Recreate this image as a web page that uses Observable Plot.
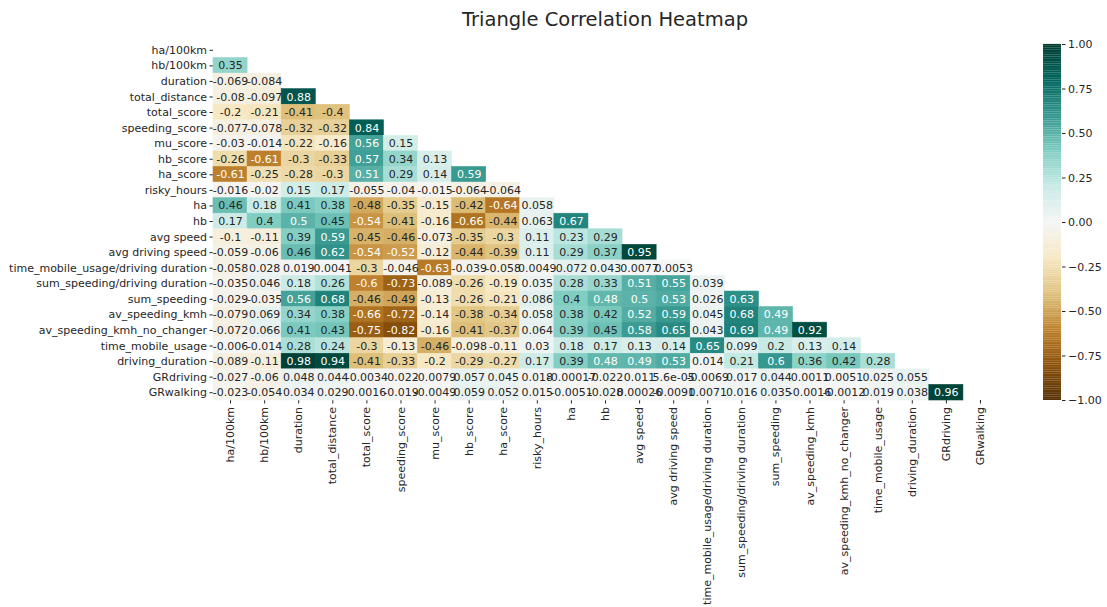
<!DOCTYPE html>
<html>
<head>
<meta charset="utf-8">
<script src="https://cdn.jsdelivr.net/npm/d3@7"></script>
<script src="https://cdn.jsdelivr.net/npm/@observablehq/plot@0.6"></script>
<style>
  body { margin: 0; background: #fff; }
  #wrap { position: relative; width: 1107px; height: 607px; overflow: hidden; font-family: "DejaVu Sans", sans-serif; }
  #title { position: absolute; left: 0; top: 10px; width: 1210px; text-align: center; font-size: 19.5px; line-height: 20px; color: #262626; }
  #heat, #bar { position: absolute; top: 0; }
  #heat { left: 0; }
  #bar { left: 1043px; }
</style>
</head>
<body>
<div id="wrap">
  <div id="heat"></div>
  <div id="bar"></div>
  <div id="title">Triangle Correlation Heatmap</div>
</div>
<script>
const variables = [
  "ha/100km", "hb/100km", "duration", "total_distance", "total_score", "speeding_score",
  "mu_score", "hb_score", "ha_score", "risky_hours", "ha", "hb", "avg speed",
  "avg driving speed", "time_mobile_usage/driving duration", "sum_speeding/driving duration",
  "sum_speeding", "av_speeding_kmh", "av_speeding_kmh_no_changer", "time_mobile_usage",
  "driving_duration", "GRdriving", "GRwalking"
];

// lower triangle rows (row i has i values, for variables 1..22)
const corrRows = [
  [0.35],
  [-0.069, -0.084],
  [-0.08, -0.097, 0.88],
  [-0.2, -0.21, -0.41, -0.4],
  [-0.077, -0.078, -0.32, -0.32, 0.84],
  [-0.03, -0.014, -0.22, -0.16, 0.56, 0.15],
  [-0.26, -0.61, -0.3, -0.33, 0.57, 0.34, 0.13],
  [-0.61, -0.25, -0.28, -0.3, 0.51, 0.29, 0.14, 0.59],
  [-0.016, -0.02, 0.15, 0.17, -0.055, -0.04, -0.015, -0.064, -0.064],
  [0.46, 0.18, 0.41, 0.38, -0.48, -0.35, -0.15, -0.42, -0.64, 0.058],
  [0.17, 0.4, 0.5, 0.45, -0.54, -0.41, -0.16, -0.66, -0.44, 0.063, 0.67],
  [-0.1, -0.11, 0.39, 0.59, -0.45, -0.46, -0.073, -0.35, -0.3, 0.11, 0.23, 0.29],
  [-0.059, -0.06, 0.46, 0.62, -0.54, -0.52, -0.12, -0.44, -0.39, 0.11, 0.29, 0.37, 0.95],
  [-0.058, 0.028, 0.019, 0.0041, -0.3, -0.046, -0.63, -0.039, -0.058, 0.0049, 0.072, 0.043, 0.0077, 0.0053],
  [-0.035, 0.046, 0.18, 0.26, -0.6, -0.73, -0.089, -0.26, -0.19, 0.035, 0.28, 0.33, 0.51, 0.55, 0.039],
  [-0.029, -0.035, 0.56, 0.68, -0.46, -0.49, -0.13, -0.26, -0.21, 0.086, 0.4, 0.48, 0.5, 0.53, 0.026, 0.63],
  [-0.079, 0.069, 0.34, 0.38, -0.66, -0.72, -0.14, -0.38, -0.34, 0.058, 0.38, 0.42, 0.52, 0.59, 0.045, 0.68, 0.49],
  [-0.072, 0.066, 0.41, 0.43, -0.75, -0.82, -0.16, -0.41, -0.37, 0.064, 0.39, 0.45, 0.58, 0.65, 0.043, 0.69, 0.49, 0.92],
  [-0.006, -0.014, 0.28, 0.24, -0.3, -0.13, -0.46, -0.098, -0.11, 0.03, 0.18, 0.17, 0.13, 0.14, 0.65, 0.099, 0.2, 0.13, 0.14],
  [-0.089, -0.11, 0.98, 0.94, -0.41, -0.33, -0.2, -0.29, -0.27, 0.17, 0.39, 0.48, 0.49, 0.53, 0.014, 0.21, 0.6, 0.36, 0.42, 0.28],
  [-0.027, -0.06, 0.048, 0.044, -0.0034, -0.022, -0.0079, 0.057, 0.045, 0.018, -0.00017, -0.022, 0.011, 5.6e-05, -0.0069, 0.017, 0.044, 0.0011, 0.0051, 0.025, 0.055],
  [-0.023, -0.054, 0.034, 0.029, 0.0016, -0.019, -0.0049, 0.059, 0.052, 0.015, -0.0051, -0.028, 0.00026, -0.0091, 0.0071, 0.016, 0.035, -0.0016, -0.0012, 0.019, 0.038, 0.96]
];

const colorbarTicks = [-1, -0.75, -0.5, -0.25, 0, 0.25, 0.5, 0.75, 1];

const brbg = ["#543005", "#8c510a", "#bf812d", "#dfc27d", "#f6e8c3", "#f5f5f5",
              "#c7eae5", "#80cdc1", "#35978f", "#01665e", "#003c30"];
const interp = d3.piecewise(d3.interpolateRgb, brbg);

const cells = [];
corrRows.forEach((vals, i) => {
  vals.forEach((v, j) => cells.push({row: variables[i + 1], col: variables[j], v}));
});

function fmt(v) {
  if (v === 0) return "0";
  const e = Math.floor(Math.log10(Math.abs(v)));
  if (e < -4) {
    let s = v.toExponential(1);
    s = s.replace(/\.0e/, "e");
    s = s.replace(/e([+-])(\d)$/, "e$10$2");
    return s;
  }
  let s = v.toPrecision(2);
  if (s.includes(".")) s = s.replace(/0+$/, "").replace(/\.$/, "");
  return s;
}
function lum(v) {
  const c = d3.rgb(interp((v + 1) / 2));
  const f = x => { x /= 255; return x <= 0.03928 ? x / 12.92 : Math.pow((x + 0.055) / 1.055, 2.4); };
  return 0.2126 * f(c.r) + 0.7152 * f(c.g) + 0.0722 * f(c.b);
}
const lightCells = cells.filter(d => lum(d.v) > 0.408);
const darkCells = cells.filter(d => lum(d.v) <= 0.408);

const heat = Plot.plot({
  width: 1107, height: 607,
  marginTop: 42, marginBottom: 207, marginLeft: 213, marginRight: 110,
  style: {fontFamily: "DejaVu Sans", fontSize: "11px", color: "#262626", background: "transparent"},
  x: {domain: variables, padding: 0, round: false, tickRotate: -90, tickSize: 3.5, tickPadding: 3, label: null},
  y: {domain: variables, padding: 0, round: false, tickSize: 3.5, tickPadding: 3, label: null},
  color: {type: "linear", domain: [-1, 1], interpolate: interp},
  marks: [
    Plot.cell(cells, {x: "col", y: "row", fill: "v", stroke: "v", strokeWidth: 0.6, inset: 0}),
    Plot.text(lightCells, {x: "col", y: "row", text: d => fmt(d.v), fill: "#262626", fontSize: 11}),
    Plot.text(darkCells, {x: "col", y: "row", text: d => fmt(d.v), fill: "white", fontSize: 11})
  ]
});
document.getElementById("heat").appendChild(heat);

const stops = d3.range(0, 200).map(i => -1 + i * 0.01);
const bar = Plot.plot({
  width: 64, height: 607,
  marginTop: 44, marginBottom: 207, marginLeft: 0, marginRight: 46,
  style: {fontFamily: "DejaVu Sans", fontSize: "11px", color: "#262626", background: "transparent", overflow: "visible"},
  x: {domain: [0, 1], axis: null},
  y: {domain: [-1, 1], axis: null},
  color: {type: "linear", domain: [-1, 1], interpolate: interp},
  marks: [
    Plot.rect(stops, {x1: 0, x2: 1, y1: d => d, y2: d => d + 0.0105, fill: d => d + 0.005}),
    Plot.axisY(colorbarTicks, {anchor: "right", tickSize: 3.5, tickPadding: 3, tickFormat: d3.format(".2f"), label: null})
  ]
});
document.getElementById("bar").appendChild(bar);
</script>
</body>
</html>
